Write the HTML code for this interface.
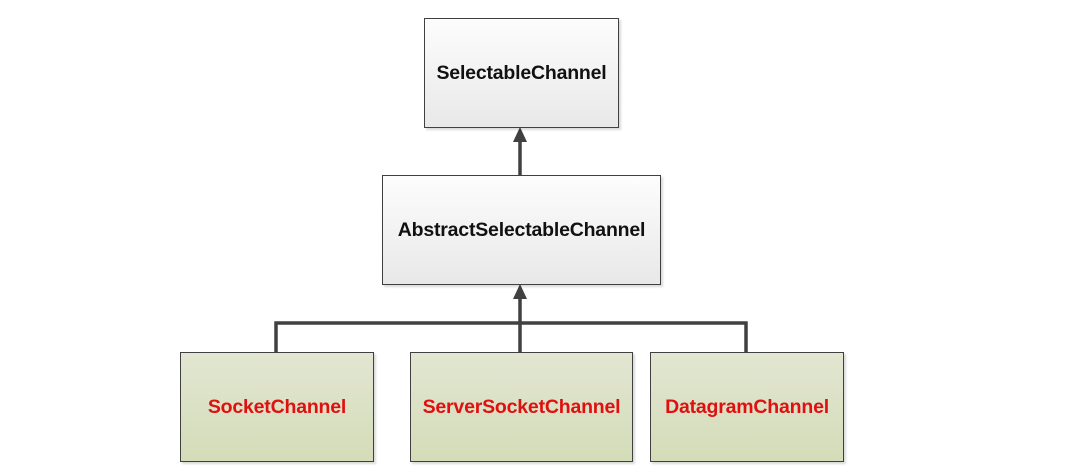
<!DOCTYPE html>
<html><head><style>
body{margin:0;width:1078px;height:474px;background:#fff;position:relative;overflow:hidden;font-family:"Liberation Sans",sans-serif;}
.b{position:absolute;box-sizing:border-box;border:1.5px solid #404040;display:flex;align-items:center;justify-content:center;font-weight:bold;font-size:19.5px;letter-spacing:-0.2px;box-shadow:2px 2px 2px rgba(0,0,0,0.15);}
.w{background:linear-gradient(#fdfdfd,#e8e8e8);color:#111;}
.g{background:linear-gradient(#e2e6d2,#d4dcb8);color:#e01010;}
</style></head><body>
<svg width="1078" height="474" style="position:absolute;left:0;top:0">
<g stroke="#404040" stroke-width="3.5" fill="none">
<line x1="520" y1="175" x2="520" y2="140"/>
<line x1="520" y1="352" x2="520" y2="297"/>
<polyline points="276,352 276,323 746,323 746,352"/>
</g>
<polygon points="520,127 513,142 527,142" fill="#404040"/>
<polygon points="520,284 513,299 527,299" fill="#404040"/>
</svg>
<div class="b w" style="left:424px;top:18px;width:195px;height:110px">SelectableChannel</div>
<div class="b w" style="left:382px;top:175px;width:279px;height:110px">AbstractSelectableChannel</div>
<div class="b g" style="left:180px;top:352px;width:194px;height:110px">SocketChannel</div>
<div class="b g" style="left:410px;top:352px;width:223px;height:110px">ServerSocketChannel</div>
<div class="b g" style="left:650px;top:352px;width:194px;height:110px">DatagramChannel</div>
</body></html>
